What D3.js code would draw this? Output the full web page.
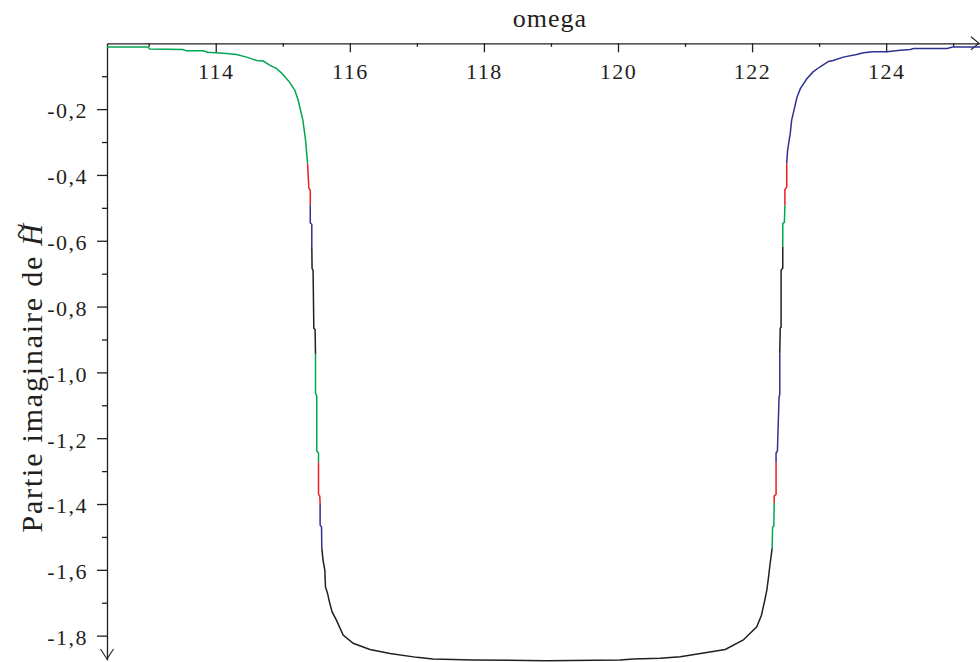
<!DOCTYPE html>
<html>
<head>
<meta charset="utf-8">
<script src="https://cdn.jsdelivr.net/npm/d3@7"></script>
<style>
  body { margin: 0; background: #fff; }
  svg { display: block; }
</style>
</head>
<body>
<div id="chart"></div>
<script>

// omega, imaginary part of H~
const omega = [
  112.378, 112.99, 113.015, 113.51, 113.56, 113.81, 113.88, 114.16, 114.31, 114.46,
  114.61, 114.71, 114.81, 114.91, 115.00, 115.10, 115.18, 115.23, 115.30, 115.34,
  115.37, 115.389, 115.41, 115.41, 115.41, 115.433, 115.433, 115.437, 115.452, 115.463,
  115.482, 115.488, 115.488, 115.507, 115.507, 115.533, 115.533, 115.533, 115.552, 115.557,
  115.557, 115.578, 115.582, 115.60, 115.627, 115.637, 115.667, 115.70, 115.736, 115.80,
  115.90, 116.05, 116.30, 116.60, 117.00, 117.24, 117.84, 118.93, 120.03, 120.23,
  120.63, 120.93, 121.60, 121.87, 122.07, 122.14, 122.19, 122.22, 122.24, 122.27,
  122.30, 122.306, 122.325, 122.33, 122.33, 122.358, 122.358, 122.358, 122.378, 122.403,
  122.413, 122.413, 122.42, 122.433, 122.433, 122.458, 122.458, 122.458, 122.482, 122.49,
  122.49, 122.517, 122.517, 122.53, 122.57, 122.59, 122.67, 122.72, 122.82, 122.91,
  123.01, 123.14, 123.21, 123.36, 123.56, 123.66, 123.81, 124.01, 124.21, 124.36,
  124.41, 124.91, 124.99, 125.40
];
const imH = [
  -0.011, -0.011, -0.017, -0.019, -0.023, -0.023, -0.027, -0.031, -0.034, -0.042,
  -0.052, -0.054, -0.067, -0.077, -0.094, -0.118, -0.143, -0.173, -0.234, -0.295,
  -0.365, -0.440, -0.447, -0.492, -0.546, -0.550, -0.619, -0.684, -0.690, -0.866,
  -0.870, -0.945, -1.063, -1.072, -1.239, -1.245, -1.273, -1.370, -1.376, -1.400,
  -1.464, -1.470, -1.534, -1.570, -1.601, -1.652, -1.671, -1.701, -1.728, -1.753,
  -1.798, -1.823, -1.842, -1.854, -1.866, -1.871, -1.874, -1.876, -1.874, -1.871,
  -1.869, -1.864, -1.842, -1.813, -1.773, -1.738, -1.692, -1.662, -1.631, -1.580,
  -1.534, -1.470, -1.467, -1.397, -1.376, -1.370, -1.273, -1.245, -1.239, -1.075,
  -1.066, -0.942, -0.866, -0.862, -0.690, -0.683, -0.619, -0.547, -0.544, -0.492,
  -0.444, -0.437, -0.365, -0.325, -0.273, -0.234, -0.164, -0.138, -0.107, -0.087,
  -0.072, -0.055, -0.052, -0.042, -0.034, -0.029, -0.026, -0.026, -0.021, -0.019,
  -0.016, -0.016, -0.011, -0.011
];
// index where each coloured piece starts (colours cycle)
const pieceStarts = [0, 20, 23, 26, 31, 36, 39, 42, 70, 73, 76, 81, 86, 89, 92];
const pieceColors = ['#00a651', '#ed1c24', '#2e3192', '#231f20'];

const xRange = [112.378, 125.40];
const yRange = [0, -1.874];
const xMajor = [114, 116, 118, 120, 122, 124];
const xMinor = [113, 115, 117, 119, 121, 123, 125];
const yMajor = [-0.2, -0.4, -0.6, -0.8, -1.0, -1.2, -1.4, -1.6, -1.8];
const yMinor = [-0.1, -0.3, -0.5, -0.7, -0.9, -1.1, -1.3, -1.5, -1.7];

const width = 980, height = 662;
const ink = '#231f20';

// pick the first serif face that is really installed
function pickFont(list) {
    const ctx = document.createElement('canvas').getContext('2d');
    const probe = 'mmmmmmmmmmlli omega 114 WQ';
    const widthOf = f => { ctx.font = '40px ' + f; return ctx.measureText(probe).width; };
    const wMono = widthOf('monospace'), wSans = widthOf('sans-serif');
    for (const f of list) {
        const a = widthOf('"' + f + '", monospace'), b = widthOf('"' + f + '", sans-serif');
        if (a !== wMono || b !== wSans) return '"' + f + '", serif';
    }
    return 'serif';
}
const font = pickFont(['Liberation Serif', 'Times New Roman', 'Tinos', 'DejaVu Serif', 'Noto Serif', 'FreeSerif', 'Times']);

const svg = d3.select('#chart')
              .append('svg')
              .attr('width', width)
              .attr('height', height);

let scaleX = d3.scaleLinear().domain(xRange).range([107, 980]);
let scaleY = d3.scaleLinear().domain(yRange).range([43.3, 660]);

// x axis (on top, ticks down)
let xAxis = d3.axisBottom(scaleX).tickValues(xMajor).tickSize(9).tickSizeOuter(0).tickFormat(d3.format('d'));
let xMinorAxis = d3.axisBottom(scaleX).tickValues(xMinor).tickSize(3.5).tickSizeOuter(0).tickFormat('');

let xAxisGroup = svg.append('g')
                    .attr('transform', 'translate(0,' + scaleY(0) + ')')
                    .call(xAxis);
svg.append('g')
   .attr('transform', 'translate(0,' + scaleY(0) + ')')
   .call(xMinorAxis)
   .select('.domain').remove();

xAxisGroup.selectAll('text')
          .attr('y', 36)
          .attr('dy', 0)
          .style('font-family', font)
          .style('font-size', '22px')
          .style('letter-spacing', '1.5px')
          .style('fill', ink);

// y axis (ticks left)
let yAxis = d3.axisLeft(scaleY).tickValues(yMajor).tickSize(10).tickSizeOuter(0)
              .tickFormat(d => d.toFixed(1).replace('.', ','));
let yMinorAxis = d3.axisLeft(scaleY).tickValues(yMinor).tickSize(5).tickSizeOuter(0).tickFormat('');

let yAxisGroup = svg.append('g')
                    .attr('transform', 'translate(' + scaleX(xRange[0]) + ',0)')
                    .call(yAxis);
svg.append('g')
   .attr('transform', 'translate(' + scaleX(xRange[0]) + ',0)')
   .call(yMinorAxis)
   .select('.domain').remove();

yAxisGroup.selectAll('text')
          .attr('x', -19)
          .attr('dy', '0.4em')
          .style('font-family', font)
          .style('font-size', '22px')
          .style('letter-spacing', '1.5px')
          .style('fill', ink);

svg.selectAll('.domain, .tick line')
   .attr('stroke', ink)
   .attr('stroke-width', 1.3);

// arrow heads
const x0 = scaleX(xRange[0]), y0 = scaleY(0);
const xEnd = scaleX(xRange[1]) - 1, yEnd = scaleY(yRange[1]) - 1;
svg.append('path')
   .attr('d', `M${xEnd - 8},${y0 - 6.5} L${xEnd},${y0} L${xEnd - 8},${y0 + 6.5}`)
   .attr('fill', 'none').attr('stroke', ink).attr('stroke-width', 1.1);
svg.append('path')
   .attr('d', `M${x0 - 6.5},${yEnd - 10} L${x0},${yEnd} L${x0 + 6.5},${yEnd - 10}`)
   .attr('fill', 'none').attr('stroke', ink).attr('stroke-width', 1.1);

// titles
svg.append('text')
   .attr('x', 550)
   .attr('y', 27)
   .style('text-anchor', 'middle')
   .style('font-family', font)
   .style('font-size', '26px')
   .style('letter-spacing', '1px')
   .style('fill', ink)
   .text('omega');

let yTitle = svg.append('text')
   .attr('transform', 'translate(42,377) rotate(-90)')
   .style('text-anchor', 'middle')
   .style('font-family', font)
   .style('font-size', '30px')
   .style('letter-spacing', '1.8px')
   .style('fill', ink);
yTitle.append('tspan').text('Partie imaginaire de ');
yTitle.append('tspan').style('font-style', 'italic').text('H');
yTitle.append('tspan').attr('dx', '-0.58em').attr('dy', '-0.36em').text('~');

// curve, one path per coloured piece
const pts = omega.map((w, i) => ({w: w, v: imH[i]}));
const line = d3.line().x(d => scaleX(d.w)).y(d => scaleY(d.v));

pieceStarts.forEach((s, k) => {
    let e = k + 1 < pieceStarts.length ? pieceStarts[k + 1] : pts.length - 1;
    svg.append('path')
       .datum(pts.slice(s, e + 1))
       .attr('d', line)
       .attr('fill', 'none')
       .attr('stroke', pieceColors[k % pieceColors.length])
       .attr('stroke-width', 1.5);
});

</script>
</body>
</html>
